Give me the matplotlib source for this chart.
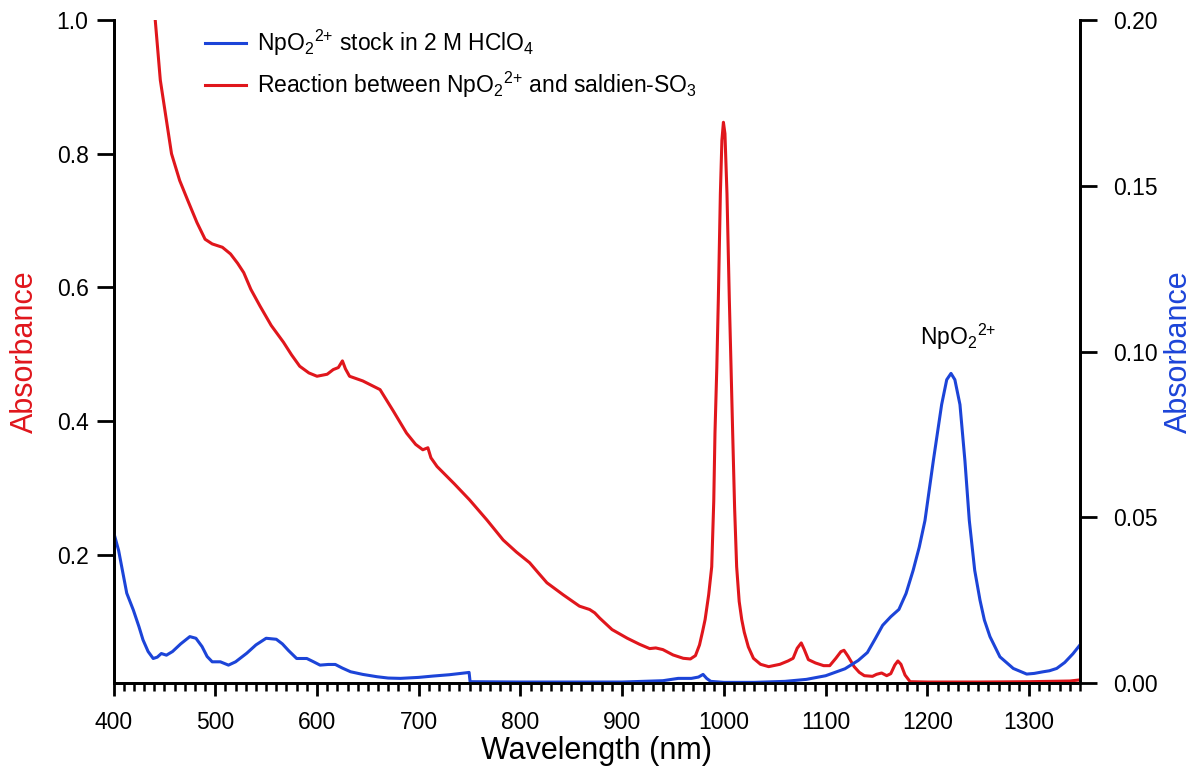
import numpy as np
import matplotlib
matplotlib.use("Agg")
import matplotlib.pyplot as plt
from matplotlib.ticker import MultipleLocator, FormatStrFormatter

plt.rcParams["font.family"] = ["Liberation Sans", "DejaVu Sans"]
plt.rcParams["mathtext.fontset"] = "custom"
plt.rcParams["mathtext.rm"] = "Liberation Sans"
plt.rcParams["mathtext.it"] = "Liberation Sans:italic"

# Spectre du mélange NpO2(2+) + saldien-SO3 (axe de gauche)
wl_reaction = [
    436, 441, 446, 451, 457, 465, 473, 482, 490, 497, 507, 515, 522, 528, 535,
    544, 555, 567, 575, 583, 592, 600, 610, 616, 621, 625, 628, 632, 645, 662,
    675, 688, 697, 704, 709, 712, 718, 735, 750, 767, 783, 796, 809, 818, 826,
    842, 858, 868, 873, 878, 890, 905, 917, 927, 933, 940, 950, 960, 967, 972,
    976, 979, 981.5, 985, 988, 990, 991.2, 993, 994.5, 996.5, 998, 999.5, 1001,
    1003, 1005.3, 1007, 1008.6, 1010.5, 1012.5, 1015, 1017.5, 1020, 1024, 1029,
    1036, 1044, 1055, 1063, 1068, 1072, 1076, 1079, 1083, 1090, 1098, 1104,
    1110, 1115, 1118, 1122, 1128, 1133, 1138, 1146, 1150, 1155, 1160, 1164,
    1168, 1171, 1174, 1178, 1183, 1200, 1250, 1300, 1340, 1350,
]
abs_reaction = [
    1.08, 1.00, 0.91, 0.86, 0.80, 0.76, 0.73, 0.697, 0.672, 0.665, 0.660,
    0.650, 0.636, 0.622, 0.597, 0.572, 0.543, 0.518, 0.499, 0.482, 0.472,
    0.467, 0.470, 0.477, 0.480, 0.490, 0.478, 0.467, 0.460, 0.447, 0.415,
    0.382, 0.365, 0.357, 0.360, 0.345, 0.332, 0.306, 0.282, 0.252, 0.222,
    0.204, 0.188, 0.172, 0.158, 0.140, 0.123, 0.118, 0.113, 0.105, 0.088,
    0.075, 0.066, 0.0595, 0.0605, 0.058, 0.050, 0.045, 0.044, 0.049, 0.065,
    0.085, 0.103, 0.140, 0.182, 0.28, 0.382, 0.48, 0.582, 0.74, 0.82, 0.847,
    0.83, 0.74, 0.582, 0.48, 0.382, 0.27, 0.182, 0.13, 0.103, 0.084, 0.062,
    0.045, 0.036, 0.0325, 0.036, 0.041, 0.045, 0.060, 0.068, 0.058, 0.043,
    0.038, 0.034, 0.034, 0.045, 0.055, 0.057, 0.048, 0.0325, 0.024, 0.019,
    0.018, 0.021, 0.023, 0.019, 0.022, 0.035, 0.041, 0.036, 0.020, 0.010,
    0.0095, 0.0095, 0.010, 0.011, 0.0127,
]

# Solution mère NpO2(2+) dans HClO4 2 M (axe de droite)
wl_stock = [
    400, 405, 413, 419.5, 425, 429, 434, 439, 443, 447, 452, 458, 466, 475,
    481, 487, 492, 497, 505, 513, 520, 531, 540, 550, 560, 566, 572, 580, 590,
    596, 603, 611, 618, 625, 633, 645, 659, 670, 682, 700, 714, 730, 747,
    749.5, 750.5, 800, 900, 940, 955, 968, 975, 979.5, 983, 987, 1000, 1030,
    1060, 1081, 1100, 1119, 1132, 1141, 1149, 1156, 1164, 1172, 1179, 1186,
    1192, 1197.6, 1205.8, 1214, 1219, 1223.2, 1227, 1232, 1236.9, 1241.2,
    1246.5, 1251.7, 1256, 1261.5, 1271.3, 1284.4, 1297.6, 1305, 1313.9, 1320,
    1327.1, 1335, 1343, 1350,
]
abs_stock = [
    0.0456, 0.040, 0.0271, 0.022, 0.017, 0.013, 0.0095, 0.0074, 0.0078,
    0.0089, 0.0084, 0.0095, 0.0118, 0.0140, 0.0135, 0.011, 0.0080, 0.0064,
    0.0064, 0.0054, 0.0064, 0.0090, 0.0115, 0.0135, 0.0132, 0.0118, 0.0098,
    0.0074, 0.0074, 0.0065, 0.0054, 0.0056, 0.0056, 0.0045, 0.0034, 0.0026,
    0.0019, 0.0015, 0.0014, 0.0017, 0.0021, 0.0025, 0.0031, 0.0032, 0.0004,
    0.0003, 0.0003, 0.0007, 0.0014, 0.0014, 0.0018, 0.0026, 0.0014, 0.0005,
    0.0002, 0.0002, 0.0005, 0.0011, 0.0022, 0.0043, 0.0068, 0.0092, 0.0135,
    0.0174, 0.0200, 0.0222, 0.027, 0.034, 0.041, 0.049, 0.067, 0.084, 0.0915,
    0.0934, 0.0915, 0.084, 0.067, 0.049, 0.034, 0.025, 0.019, 0.014, 0.0079,
    0.0044, 0.0027, 0.0029, 0.0034, 0.0037, 0.0044, 0.0062, 0.0088, 0.0115,
]

labels = [
    r"NpO$_2$$^{2{+}}$ stock in 2 M HClO$_4$",
    r"Reaction between NpO$_2$$^{2{+}}$ and saldien-SO$_3$",
]

rouge = "#E0161C"
bleu = "#1C44D8"

fig = plt.figure(figsize=(12, 7.73), dpi=100)
ax = fig.add_axes([0.0946, 0.1164, 0.8054, 0.8577])
ax2 = ax.twinx()

(l_red,) = ax.plot(wl_reaction, abs_reaction, color=rouge, lw=2.2,
                   solid_joinstyle="round")
(l_blue,) = ax2.plot(wl_stock, abs_stock, color=bleu, lw=2.2,
                     solid_joinstyle="round")

ax.set_xlim(400, 1350)
ax.set_ylim(0.008, 1.0)
ax2.set_ylim(0, 0.20)

# axes et graduations
for a in (ax, ax2):
    a.spines["top"].set_visible(False)
    for s in ("left", "right", "bottom"):
        a.spines[s].set_linewidth(2.0)

ax.xaxis.set_major_locator(MultipleLocator(100))
ax.xaxis.set_minor_locator(MultipleLocator(10))
ax.yaxis.set_major_locator(MultipleLocator(0.2))
ax.yaxis.set_major_formatter(FormatStrFormatter("%.1f"))
ax2.yaxis.set_major_locator(MultipleLocator(0.05))
ax2.yaxis.set_major_formatter(FormatStrFormatter("%.2f"))

ax.tick_params(axis="x", which="major", direction="out", length=9.5,
               width=2.0, labelsize=16.5, pad=11)
ax.tick_params(axis="x", which="minor", direction="out", length=5.8,
               width=1.8)
ax.tick_params(axis="y", direction="out", length=12, width=2.0,
               labelsize=16.5, pad=6)
ax2.tick_params(axis="y", direction="out", length=12, width=2.0,
                labelsize=16.5, pad=12)

ax.set_xlabel("Wavelength (nm)", fontsize=22, labelpad=1)
ax.set_ylabel("Absorbance", fontsize=22, color=rouge, labelpad=12)
ax2.set_ylabel("Absorbance", fontsize=22, color=bleu, labelpad=4)

ax2.text(1192.7, 0.1045, r"NpO$_2$$^{2{+}}$", fontsize=16.5, ha="left",
         va="center")

ax2.legend([l_blue, l_red], labels, loc="upper left",
           bbox_to_anchor=(0.0947, 0.988), frameon=False, fontsize=16.5,
           handlelength=1.8, handletextpad=0.45, labelspacing=0.5,
           borderpad=0, borderaxespad=0)

fig.savefig("out.png", dpi=100)
